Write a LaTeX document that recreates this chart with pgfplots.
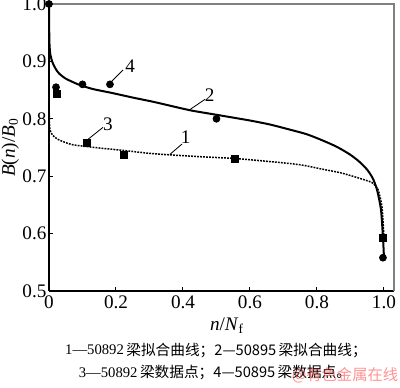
\documentclass[border=0pt]{standalone}
\usepackage{fontspec}
\setmainfont{Liberation Serif}
\newfontfamily\cjk{Noto Sans CJK SC}
\usepackage{pgfplots}
\pgfplotsset{compat=1.18}
\begin{document}
\begin{tikzpicture}[x=1pt,y=1pt]
\useasboundingbox (0,0) rectangle (240,232.2);
\begin{axis}[
 at={(29.4pt,57.6pt)}, anchor=south west,
 scale only axis, width=207pt, height=172.2pt,
 xmin=0, xmax=1.03, ymin=0.5, ymax=1.0,
 axis x line*=bottom, axis y line*=left,
 axis line style={line width=0.8pt, -},
 tick align=inside, major tick length=2.4pt,
 tick style={line width=0.6pt, black},
 xtick={0,0.2,0.4,0.6,0.8,1.0}, xticklabels={0,0.2,0.4,0.6,0.8,1.0},
 ytick={0.5,0.6,0.7,0.8,0.9,1.0}, yticklabels={0.5,0.6,0.7,0.8,0.9,1.0},
 tick label style={font=\fontsize{11.5}{13}\selectfont},
 yticklabel style={xshift=2pt},
 xticklabel style={yshift=0.5pt},
 xlabel={\textit{n}/\textit{N}\textsubscript{f}},
 ylabel={\textit{B}(\textit{n})/\textit{B}\textsubscript{0}},
 label style={font=\fontsize{11.5}{13}\selectfont},
 xlabel style={at={(axis description cs:0.516,-0.122)}, anchor=center},
 ylabel style={at={(axis description cs:-0.112,0.5)}, anchor=center, rotate=0},
 clip=false,
]
\draw[gray, line width=0.8pt] (rel axis cs:0,1) -- (rel axis cs:1,1) -- (rel axis cs:1,0);
% curve 2 (solid)
\addplot[black, line width=1.2pt, no marks, smooth, tension=0.4] coordinates {
(0,1.0) (0.0005,0.96) (0.0015,0.93) (0.004,0.912) (0.01,0.899) (0.02,0.887) (0.03,0.879)
(0.05,0.870) (0.087,0.860) (0.13,0.852) (0.188,0.845) (0.25,0.837) (0.316,0.829) (0.42,0.815)
(0.5,0.807) (0.6,0.797) (0.66,0.790) (0.72,0.781) (0.77,0.773) (0.818,0.762) (0.86,0.751)
(0.898,0.738) (0.925,0.726) (0.949,0.712) (0.966,0.697) (0.979,0.677)
(0.991,0.642) (0.997,0.594) (1.0,0.559)};
% curve 1 (dotted)
\addplot[black, line width=0.9pt, dash pattern=on 1.1pt off 0.7pt, no marks, smooth, tension=0.4] coordinates {
(0,0.9) (0.0005,0.83) (0.001,0.80) (0.003,0.781) (0.01,0.772) (0.027,0.764) (0.069,0.755)
(0.137,0.750) (0.22,0.745) (0.316,0.739) (0.45,0.734) (0.55,0.731) (0.65,0.726) (0.749,0.720)
(0.818,0.712) (0.87,0.706) (0.918,0.698) (0.945,0.693) (0.964,0.689) (0.982,0.677) (0.994,0.647) (1.0,0.593)};
% data 50892 (squares)
\addplot[only marks, mark=square*, mark size=2.1pt, black] coordinates {
(0.024,0.843) (0.113,0.758) (0.224,0.738) (0.555,0.731) (0.997,0.593)};
% data 50895 (circles)
\addplot[only marks, mark=*, mark size=2.1pt, black] coordinates {
(0,1.0) (0.021,0.855) (0.10,0.860) (0.182,0.860) (0.50,0.800) (0.997,0.558)};
% labels
\begin{scope}[font=\fontsize{11.5}{13}\selectfont]
\draw[line width=0.5pt] (axis cs:0.185,0.864) -- (axis cs:0.221,0.885);
\node at (axis cs:0.242,0.892) {4};
\draw[line width=0.5pt] (axis cs:0.116,0.764) -- (axis cs:0.161,0.785);
\node at (axis cs:0.176,0.790) {3};
\draw[line width=0.5pt] (axis cs:0.418,0.815) -- (axis cs:0.466,0.834);
\node at (axis cs:0.480,0.841) {2};
\draw[line width=0.5pt] (axis cs:0.361,0.738) -- (axis cs:0.397,0.756);
\node at (axis cs:0.408,0.768) {1};
\end{scope}
\end{axis}
\node[font=\fontsize{8.8}{10}\selectfont] at (129.6,22.2) {1—50892\,\cjk{梁拟合曲线；}2—50895\,\cjk{梁拟合曲线；}};
\node[font=\fontsize{8.8}{10}\selectfont] at (129,8.4) {3—50892\,\cjk{梁数据点；}4—50895\,\cjk{梁数据点。}};
\node[font=\fontsize{9.2}{10}\selectfont, text=red!70!white, opacity=0.6] at (207,7.2) {\cjk{@有色金属在线}};
\end{tikzpicture}
\end{document}
